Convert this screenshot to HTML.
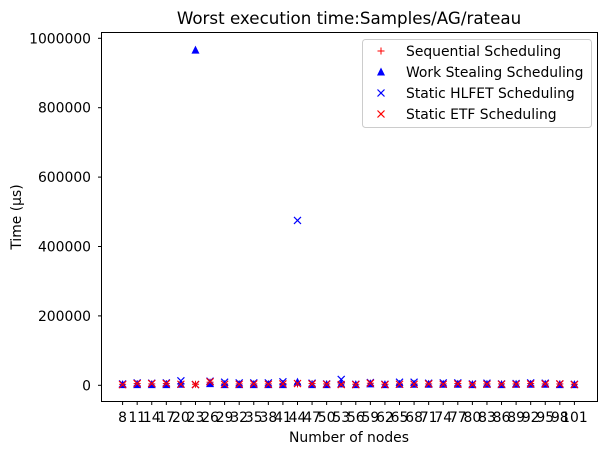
<!DOCTYPE html>
<html><head><meta charset="utf-8"><style>
body{margin:0;background:#fff;}
svg{display:block;font-family:"DejaVu Sans","Liberation Sans",sans-serif;}
</style></head><body>
<svg id="chart" width="610" height="455">
<rect x="0" y="0" width="610" height="455" fill="#fff"/>
<text x="349" y="24" font-size="16.7" text-anchor="middle">Worst execution time:Samples/AG/rateau</text>
<g id="marks"></g>
<g id="axes"></g>
<rect x="101.5" y="32.5" width="496" height="369" fill="none" stroke="#000" stroke-width="1"/>
<text x="349" y="442" font-size="13.9" text-anchor="middle">Number of nodes</text>
<text transform="translate(21,217) rotate(-90)" font-size="13.9" text-anchor="middle">Time (µs)</text>
<g id="legend">
<rect x="362.5" y="39.5" width="229" height="88" rx="3" fill="#fff" fill-opacity="0.8" stroke="#ccc"/>
</g>
</svg>
<script>
const categories=[8,11,14,17,20,23,26,29,32,35,38,41,44,47,50,53,56,59,62,65,68,71,74,77,80,83,86,89,92,95,98,101];
const seqValues=[3000,5000,4000,5000,4000,3000,9000,4000,4000,4000,4000,5000,4000,5000,4000,4000,3000,6000,3000,4000,4000,4000,4000,5000,4000,4000,4000,4000,5000,4000,4000,3000];
const wsValues=[2000,2000,2000,2000,3000,966000,5000,2000,2000,2000,2000,2000,9000,2000,2000,4000,2000,4000,2000,3000,3000,3000,3000,3000,2000,3000,2000,3000,3000,3000,2000,2000];
const hlfetValues=[4000,7000,6000,7000,13000,2000,12000,9000,7000,7000,7000,10000,475000,6000,4000,17000,3000,8000,3000,9000,9000,6000,7000,7000,4000,6000,4000,5000,7000,6000,4000,3000];
const etfValues=[2000,5000,5000,5000,3000,2000,10000,3000,3000,4000,3000,4000,5000,4000,3000,2000,2000,6000,2000,3000,3000,4000,3000,4000,2000,3000,3000,3000,4000,4000,4000,2000];
const yTicks=[0,200000,400000,600000,800000,1000000];
const NS="http://www.w3.org/2000/svg";
const x0=122.6,dx=(574.4-122.6)/31;
function xs(i){return x0+i*dx;}
function ys(v){return 385.3-v*(385.3-38.3)/1000000;}
function mk(tag,attrs,parent){const e=document.createElementNS(NS,tag);for(const k in attrs)e.setAttribute(k,attrs[k]);parent.appendChild(e);return e;}
const axes=document.getElementById('axes'),marks=document.getElementById('marks');
yTicks.forEach(v=>{const y=ys(v);
 const t=mk('line',{x1:98,x2:101.5,y1:y,y2:y,stroke:'#000'},axes);
 
 
 const l=mk('text',{x:91,y:y+5,'font-size':13.9,'text-anchor':'end'},axes);l.textContent=v;
 
 
});
categories.forEach((c,i)=>{const x=xs(i);
 const t=mk('line',{x1:x,x2:x,y1:401.5,y2:405,stroke:'#000'},axes);
 
 
 const l=mk('text',{x:x,y:422,'font-size':13.9,'text-anchor':'middle'},axes);l.textContent=c;
 
 
});
function plus(x,y,col,p){const g=mk('g',{stroke:col,'stroke-width':1},p);mk('line',{x1:x-3.5,x2:x+3.5,y1:y,y2:y},g);mk('line',{x1:x,x2:x,y1:y-3.5,y2:y+3.5},g);return g;}
function cross(x,y,col,p){const g=mk('g',{stroke:col,'stroke-width':1.2},p);mk('line',{x1:x-3.5,x2:x+3.5,y1:y-3.5,y2:y+3.5},g);mk('line',{x1:x-3.5,x2:x+3.5,y1:y+3.5,y2:y-3.5},g);return g;}
function tri(x,y,col,p){return mk('polygon',{points:`${x},${y-4.5} ${x-4},${y+3.5} ${x+4},${y+3.5}`,fill:col},p);}
seqValues.forEach((v,i)=>{const e=plus(xs(i),ys(v),'red',marks);
 
 });
wsValues.forEach((v,i)=>{const e=tri(xs(i),ys(v),'blue',marks);
 
 });
hlfetValues.forEach((v,i)=>{const e=cross(xs(i),ys(v),'blue',marks);
 
 });
etfValues.forEach((v,i)=>{const e=cross(xs(i),ys(v),'red',marks);
 
 });
const lg=document.getElementById('legend');
const entries=[['Sequential Scheduling',plus,'red',51],['Work Stealing Scheduling',tri,'blue',72],['Static HLFET Scheduling',cross,'blue',93],['Static ETF Scheduling',cross,'red',114]];
entries.forEach(e=>{const m=e[1](381,e[3],e[2],lg);
 
 
 const t=mk('text',{x:406,y:e[3]+5,'font-size':13.9},lg);t.textContent=e[0];
 
 });
</script>
</body></html>
